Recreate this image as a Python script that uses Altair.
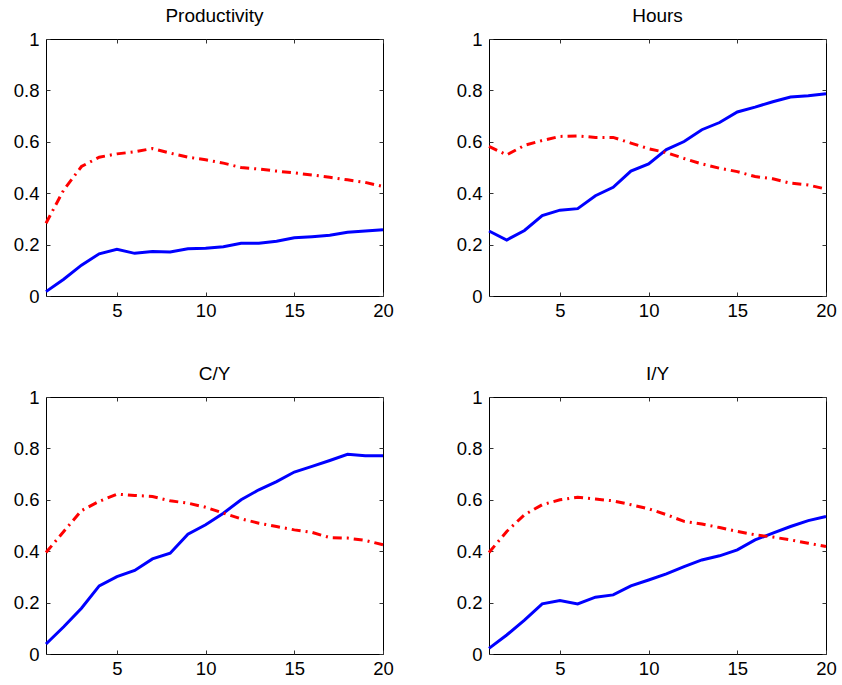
import altair as alt
import pandas as pd

t = list(range(1, 21))
titles = ["Productivity", "Hours", "C/Y", "I/Y"]

prod_blue = [0.017, 0.065, 0.120, 0.164, 0.182, 0.166, 0.173, 0.171, 0.184, 0.186,
             0.192, 0.205, 0.205, 0.213, 0.227, 0.231, 0.236, 0.248, 0.253, 0.258]
prod_red = [0.283, 0.413, 0.504, 0.540, 0.553, 0.561, 0.574, 0.556, 0.540, 0.530,
            0.517, 0.500, 0.494, 0.486, 0.479, 0.471, 0.462, 0.452, 0.442, 0.426]
hours_blue = [0.253, 0.218, 0.255, 0.313, 0.334, 0.340, 0.390, 0.423, 0.486, 0.514,
              0.570, 0.601, 0.647, 0.675, 0.716, 0.735, 0.756, 0.774, 0.779, 0.787]
hours_red = [0.582, 0.549, 0.586, 0.605, 0.621, 0.623, 0.617, 0.617, 0.595, 0.573,
             0.558, 0.535, 0.514, 0.497, 0.484, 0.465, 0.456, 0.439, 0.432, 0.416]
cy_blue = [0.039, 0.106, 0.178, 0.265, 0.301, 0.325, 0.370, 0.392, 0.466, 0.503,
           0.548, 0.600, 0.639, 0.671, 0.708, 0.730, 0.753, 0.777, 0.771, 0.771]
cy_red = [0.395, 0.477, 0.558, 0.594, 0.622, 0.617, 0.613, 0.596, 0.587, 0.571,
          0.548, 0.526, 0.509, 0.496, 0.483, 0.473, 0.453, 0.451, 0.442, 0.425]
iy_blue = [0.022, 0.074, 0.132, 0.195, 0.208, 0.195, 0.221, 0.230, 0.265, 0.288,
           0.312, 0.340, 0.366, 0.382, 0.405, 0.444, 0.470, 0.496, 0.519, 0.535]
iy_red = [0.395, 0.477, 0.542, 0.581, 0.600, 0.610, 0.603, 0.596, 0.581, 0.565,
          0.542, 0.516, 0.506, 0.492, 0.477, 0.464, 0.455, 0.444, 0.431, 0.418]

x_ticks = [5, 10, 15, 20]
y_ticks = [0, 0.2, 0.4, 0.6, 0.8, 1]

FONT = "Liberation Sans"
TICK = 4
W, H = 337, 257

xs = alt.Scale(domain=[1, 20], nice=False, zero=False)
ys = alt.Scale(domain=[0, 1], nice=False, zero=False)


def axis(orient, values, labels=True, pad=6):
    return alt.Axis(
        orient=orient, values=values, labels=labels, domain=False, grid=False,
        ticks=True, tickSize=TICK, offset=-TICK, tickColor="#333333", tickWidth=1,
        labelFont=FONT, labelFontSize=18.5, labelColor="black", labelPadding=pad,
        labelFlush=False, labelOverlap=False, labelBound=False, format="~g",
        title=None,
    )


def panel(title, blue, red):
    df = pd.DataFrame({"t": t, "blue": blue, "red": red})
    blue_line = alt.Chart(df).mark_line(color="#0000ff", strokeWidth=3).encode(
        x=alt.X("t:Q", scale=xs, axis=axis("bottom", x_ticks, pad=5)),
        y=alt.Y("blue:Q", scale=ys, axis=axis("left", y_ticks, pad=7)))
    red_line = alt.Chart(df).mark_line(
        color="#ff0000", strokeWidth=3, strokeDash=[9, 5, 2, 5]).encode(
        x=alt.X("t:Q", scale=xs, axis=axis("top", x_ticks, labels=False)),
        y=alt.Y("red:Q", scale=ys, axis=axis("right", y_ticks, labels=False)))
    return alt.layer(blue_line, red_line).resolve_axis(
        x="independent", y="independent").properties(
        width=W, height=H,
        title=alt.TitleParams(title, font=FONT, fontSize=19, fontWeight="normal",
                              color="black", anchor="middle", offset=4))


p1 = panel(titles[0], prod_blue, prod_red)
p2 = panel(titles[1], hours_blue, hours_red)
p3 = panel(titles[2], cy_blue, cy_red)
p4 = panel(titles[3], iy_blue, iy_red)

chart = alt.concat(p1, p2, p3, p4, columns=2,
                   spacing={"row": 101, "column": 106}, bounds="flush").configure_view(
    stroke="black", strokeWidth=1).properties(
    padding={"left": 12, "top": 6, "right": 5, "bottom": 5}, background="white")

chart.save("out.html", embed_options={"renderer": "svg", "actions": False})
